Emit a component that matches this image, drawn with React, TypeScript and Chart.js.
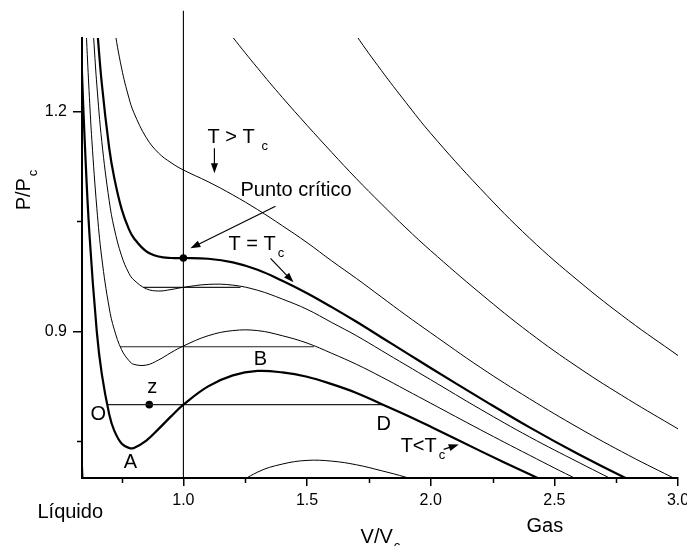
import React, { useEffect, useRef } from "react";
import { Chart, registerables } from "chart.js";

Chart.register(...registerables);

// ---- Data (reduced volume V/Vc vs reduced pressure P/Pc) ----
const vT090 = [0.58, 0.59, 0.6, 0.65, 0.7, 0.75, 0.8, 0.9, 1.0, 1.1, 1.2, 1.3, 1.4, 1.5, 1.6, 1.7, 1.8, 1.9, 2.0, 2.2];
const pT090 = [0.812, 0.733, 0.667, 0.478, 0.423, 0.427, 0.455, 0.532, 0.6, 0.651, 0.686, 0.708, 0.719, 0.724, 0.723, 0.718, 0.71, 0.701, 0.69, 0.666];

const vT095 = [0.58, 0.59, 0.6, 0.62, 0.65, 0.67, 0.7, 0.72, 0.75, 0.78, 0.8, 0.85, 0.9, 0.95, 1.0, 1.1, 1.2, 1.3, 1.4, 1.5, 1.6, 1.7, 1.8, 1.9, 2.0, 2.2, 2.4, 2.6];
const pT095 = [1.352, 1.252, 1.167, 1.033, 0.899, 0.842, 0.787, 0.765, 0.747, 0.741, 0.741, 0.751, 0.767, 0.784, 0.8, 0.825, 0.84, 0.846, 0.844, 0.838, 0.828, 0.816, 0.801, 0.786, 0.77, 0.737, 0.705, 0.674];

const vT097 = [0.59, 0.6, 0.61, 0.62, 0.63, 0.65, 0.67, 0.7, 0.72, 0.75, 0.78, 0.8, 0.85, 0.9, 0.95, 1.0, 1.1, 1.2, 1.3, 1.4, 1.5, 1.6, 1.7, 1.8, 1.9, 2.0, 2.2, 2.4, 2.6, 2.8];
const pT097 = [1.46, 1.367, 1.287, 1.219, 1.16, 1.068, 1.0, 0.932, 0.903, 0.875, 0.86, 0.855, 0.854, 0.861, 0.871, 0.88, 0.894, 0.901, 0.901, 0.894, 0.884, 0.87, 0.855, 0.838, 0.82, 0.802, 0.766, 0.731, 0.697, 0.666];

const vT099 = [0.62, 0.63, 0.64, 0.65, 0.67, 0.7, 0.72, 0.75, 0.78, 0.8, 0.85, 0.9, 0.95, 1.0, 1.1, 1.2, 1.3, 1.4, 1.5, 1.6, 1.7, 1.8, 1.9, 2.0, 2.2, 2.4, 2.6, 2.8];
const pT099 = [1.405, 1.34, 1.285, 1.236, 1.159, 1.078, 1.041, 1.003, 0.979, 0.97, 0.958, 0.955, 0.957, 0.96, 0.964, 0.963, 0.956, 0.944, 0.93, 0.912, 0.894, 0.874, 0.854, 0.834, 0.794, 0.756, 0.721, 0.687];

const vTc = [0.64, 0.65, 0.67, 0.7, 0.72, 0.75, 0.78, 0.8, 0.85, 0.9, 0.95, 1.0, 1.1, 1.2, 1.3, 1.4, 1.5, 1.6, 1.7, 1.8, 1.9, 2.0, 2.2, 2.4, 2.6, 2.8, 3.0];
const pTc = [1.372, 1.32, 1.238, 1.15, 1.11, 1.067, 1.039, 1.027, 1.009, 1.002, 1.0, 1.0, 0.999, 0.994, 0.984, 0.969, 0.952, 0.933, 0.913, 0.892, 0.871, 0.85, 0.809, 0.769, 0.732, 0.698, 0.667];

const vT103 = [0.67, 0.7, 0.72, 0.75, 0.78, 0.8, 0.85, 0.9, 0.95, 1.0, 1.1, 1.2, 1.3, 1.4, 1.5, 1.6, 1.7, 1.8, 1.9, 2.0, 2.2, 2.4, 2.6, 2.8, 3.0];
const pT103 = [1.475, 1.369, 1.316, 1.259, 1.218, 1.198, 1.164, 1.143, 1.13, 1.12, 1.104, 1.086, 1.066, 1.044, 1.021, 0.996, 0.972, 0.947, 0.922, 0.898, 0.851, 0.808, 0.768, 0.731, 0.697];

const vT110 = [1.1, 1.15, 1.2, 1.3, 1.4, 1.5, 1.6, 1.7, 1.8, 1.9, 2.0, 2.2, 2.4, 2.6, 2.8, 3.0];
const pT110 = [1.347, 1.324, 1.301, 1.259, 1.219, 1.181, 1.144, 1.108, 1.074, 1.041, 1.01, 0.952, 0.898, 0.85, 0.807, 0.767];

const vT120 = [1.6, 1.7, 1.8, 1.9, 2.0, 2.2, 2.4, 2.6, 2.8, 3.0];
const pT120 = [1.355, 1.303, 1.256, 1.212, 1.17, 1.095, 1.027, 0.968, 0.915, 0.867];

// horizontal tie lines
const vTie080 = [0.692, 1.806];
const pTie080 = [0.8, 0.8];
const vTie088 = [0.745, 1.528];
const pTie088 = [0.879, 0.879];
const vTie096 = [0.839, 1.231];
const pTie096 = [0.96, 0.96];

// vertical line at V = Vc
const vVert = [1.0, 1.0];
const pVert = [0.7, 1.337];

// marked points: critical point and z
const vDots = [1.0, 0.862];
const pDots = [1.0, 0.8];

// axis ticks
const xTicks = [1.0, 1.5, 2.0, 2.5, 3.0];
const xMinor = [0.75, 1.25, 1.75, 2.25, 2.75];
const yTicks = [0.9, 1.2];
const yMinor = [0.75, 1.05];

const FONT = '"Liberation Sans", Arial, Helvetica, sans-serif';

function pts(v: number[], p: number[]) {
  return v.map((x, i) => ({ x, y: p[i] }));
}

export default function App() {
  const ref = useRef<HTMLCanvasElement>(null);

  useEffect(() => {
    const canvas = ref.current;
    if (!canvas) return;

    const curve = (v: number[], p: number[], w: number, color = "#000") => ({
      data: pts(v, p),
      borderColor: color,
      backgroundColor: color,
      borderWidth: w,
      pointRadius: 0,
      tension: 0.4,
      capBezierPoints: false,
      fill: false,
    });
    const straight = (v: number[], p: number[], w: number, color = "#000") => ({
      data: pts(v, p),
      borderColor: color,
      backgroundColor: color,
      borderWidth: w,
      pointRadius: 0,
      tension: 0,
      fill: false,
    });

    const annot = {
      id: "annot",
      afterDraw(chart: any) {
        const ctx = chart.ctx as CanvasRenderingContext2D;
        const xs = chart.scales.x;
        const ys = chart.scales.y;
        const X = (v: number) => xs.getPixelForValue(v);
        const Y = (v: number) => ys.getPixelForValue(v);
        const area = chart.chartArea;
        ctx.save();
        ctx.fillStyle = "#000";
        ctx.strokeStyle = "#000";

        // minor ticks
        ctx.lineWidth = 1.5;
        ctx.beginPath();
        xMinor.forEach((v) => {
          const px = Math.round(X(v)) + 0.5;
          ctx.moveTo(px, area.bottom);
          ctx.lineTo(px, area.bottom + 5);
        });
        yMinor.forEach((v) => {
          const py = Math.round(Y(v)) + 0.5;
          ctx.moveTo(area.left - 5, py);
          ctx.lineTo(area.left, py);
        });
        ctx.stroke();

        const text = (s: string, x: number, y: number, size = 20, align: CanvasTextAlign = "left") => {
          ctx.font = `${size}px ${FONT}`;
          ctx.textAlign = align;
          ctx.textBaseline = "alphabetic";
          ctx.fillText(s, x, y);
        };
        const sub = (main: string, s: string, x: number, y: number, gap = 3) => {
          ctx.font = `20px ${FONT}`;
          ctx.textAlign = "left";
          ctx.textBaseline = "alphabetic";
          const w = ctx.measureText(main).width;
          ctx.fillText(main, x, y);
          ctx.font = `13px ${FONT}`;
          ctx.fillText(s, x + w + gap, y + 7);
        };
        const arrow = (x1: number, y1: number, x2: number, y2: number) => {
          const ax = X(x1), ay = Y(y1), bx = X(x2), by = Y(y2);
          const ang = Math.atan2(by - ay, bx - ax);
          const L = 10, H = 3.5;
          ctx.lineWidth = 1.2;
          ctx.beginPath();
          ctx.moveTo(ax, ay);
          ctx.lineTo(bx - Math.cos(ang) * (L - 2), by - Math.sin(ang) * (L - 2));
          ctx.stroke();
          ctx.beginPath();
          ctx.moveTo(bx, by);
          ctx.lineTo(bx - L * Math.cos(ang) + H * Math.sin(ang), by - L * Math.sin(ang) - H * Math.cos(ang));
          ctx.lineTo(bx - L * Math.cos(ang) - H * Math.sin(ang), by - L * Math.sin(ang) + H * Math.cos(ang));
          ctx.closePath();
          ctx.fill();
        };

        // annotations in data coordinates
        sub("T > T", "c", X(1.097), Y(1.1565), 7);
        arrow(1.1255, 1.1497, 1.1255, 1.1156);
        text("Punto crítico", X(1.2308), Y(1.0842));
        arrow(1.3725, 1.0705, 1.0283, 1.0132);
        sub("T = T", "c", X(1.1822), Y(1.0105), 2);
        arrow(1.3522, 0.9996, 1.4453, 0.9668);
        text("B", X(1.3117), Y(0.8536), 20, "center");
        text("D", X(1.8097), Y(0.765), 20, "center");
        sub("T<T", "c", X(1.8785), Y(0.7349), 2);
        arrow(2.0526, 0.739, 2.1134, 0.7458);
        text("A", X(0.7854), Y(0.7131), 20, "center");
        text("O", X(0.6559), Y(0.7786), 20, "center");
        text("z", X(0.8745), Y(0.8154), 20, "center");

        // outer labels
        text("Líquido", X(0.5425), Y(0.6449), 20, "center");
        text("Gas", X(2.4615), Y(0.6258), 20, "center");
        sub("V/V", "c", X(1.7166), Y(0.6108), 1);

        // y axis title, rotated
        ctx.save();
        ctx.translate(30, 190);
        ctx.rotate(-Math.PI / 2);
        ctx.font = `20px ${FONT}`;
        const wm = ctx.measureText("P/P").width;
        ctx.font = `13px ${FONT}`;
        const wc = ctx.measureText("c").width;
        const tot = wm + 2 + wc;
        ctx.font = `20px ${FONT}`;
        ctx.textAlign = "left";
        ctx.fillText("P/P", -tot / 2, 0);
        ctx.font = `13px ${FONT}`;
        ctx.fillText("c", -tot / 2 + wm + 2, 7);
        ctx.restore();

        ctx.restore();
      },
    };

    const chart = new Chart(canvas, {
      type: "line",
      data: {
        datasets: [
          curve(vT090, pT090, 1),
          curve(vT095, pT095, 2.2),
          curve(vT097, pT097, 1),
          curve(vT099, pT099, 1),
          curve(vTc, pTc, 2.2),
          curve(vT103, pT103, 1),
          curve(vT110, pT110, 1),
          curve(vT120, pT120, 1),
          straight(vTie080, pTie080, 1.2, "#222"),
          straight(vTie088, pTie088, 1.2, "#222"),
          straight(vTie096, pTie096, 1.2, "#222"),
          { ...straight(vVert, pVert, 1.1), clip: false },
          {
            data: pts(vDots, pDots),
            showLine: false,
            pointRadius: 3.8,
            pointBackgroundColor: "#000",
            pointBorderColor: "#000",
            borderWidth: 0,
          },
        ] as any,
      },
      options: {
        responsive: false,
        animation: false,
        events: [],
        layout: { padding: { top: 38, right: 9, left: 0, bottom: 0 } },
        plugins: { legend: { display: false }, tooltip: { enabled: false } },
        scales: {
          x: {
            type: "linear",
            min: 0.59,
            max: 3.0,
            afterBuildTicks: (s: any) => {
              s.ticks = xTicks.map((v) => ({ value: v }));
            },
            afterFit: (s: any) => {
              s.height = 68;
              s.paddingLeft = 0;
              s.paddingRight = 0;
            },
            ticks: {
              color: "#000",
              font: { size: 16, family: FONT },
              padding: 5,
              maxRotation: 0,
              autoSkip: false,
              callback: (v: any) => Number(v).toFixed(1),
            },
            grid: { drawOnChartArea: false, drawTicks: true, tickLength: 8, color: "#000", lineWidth: 1.5 },
            border: { display: true, color: "#000", width: 2 },
          },
          y: {
            type: "linear",
            min: 0.7,
            max: 1.3,
            afterBuildTicks: (s: any) => {
              s.ticks = yTicks.map((v) => ({ value: v }));
            },
            afterFit: (s: any) => {
              s.width = 82;
              s.paddingTop = 0;
              s.paddingBottom = 0;
            },
            ticks: {
              color: "#000",
              font: { size: 16, family: FONT },
              padding: 6,
              callback: (v: any) => Number(v).toFixed(1),
            },
            grid: { drawOnChartArea: false, drawTicks: true, tickLength: 9, color: "#000", lineWidth: 1.5 },
            border: { display: true, color: "#000", width: 2 },
          },
        },
      } as any,
      plugins: [annot],
    });

    return () => chart.destroy();
  }, []);

  return (
    <div style={{ position: "absolute", left: 0, top: 0, width: 687, height: 546, background: "#fff" }}>
      <canvas ref={ref} width={687} height={546} style={{ display: "block", width: 687, height: 546 }} />
    </div>
  );
}
